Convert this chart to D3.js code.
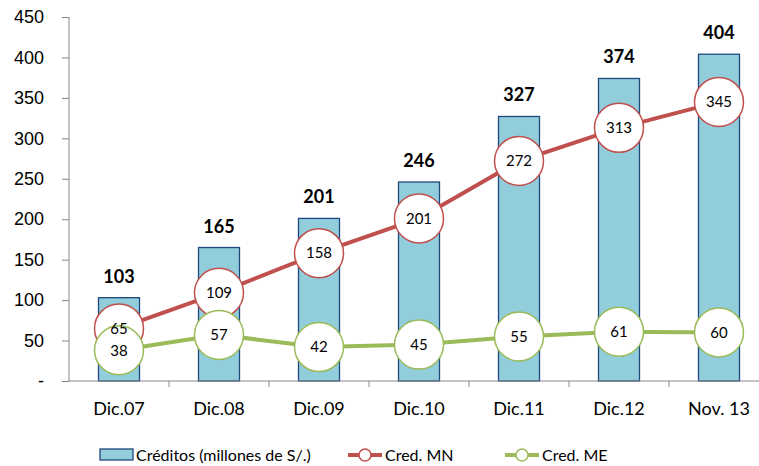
<!DOCTYPE html>
<html>
<head>
<meta charset="utf-8">
<script src="https://cdn.jsdelivr.net/npm/d3@7"></script>
<style>
  body { margin: 0; background: #fff; }
  svg { font-family: Lato, "Open Sans", sans-serif; }
</style>
</head>
<body>
<div id="chart"></div>
<script>
// data
const categories = ["Dic.07", "Dic.08", "Dic.09", "Dic.10", "Dic.11", "Dic.12", "Nov. 13"];
const creditos = [103, 165, 201, 246, 327, 374, 404];
const credMN = [65, 109, 158, 201, 272, 313, 345];
const credME = [38, 57, 42, 45, 55, 61, 60];
const yTicks = [0, 50, 100, 150, 200, 250, 300, 350, 400, 450];

const W = 759, H = 466;
const margin = { top: 17, left: 69 };
const x0 = margin.left, x1 = x0 + 700;
const yBottom = 381;

const svg = d3.select("#chart").append("svg")
  .attr("width", W).attr("height", H);

const x = d3.scaleBand().domain(categories).range([x0, x1]).paddingInner(0.59).paddingOuter(0.295);
const xc = d3.scalePoint().domain(categories).range([x0 + 50, x1 - 50]);
const y = d3.scaleLinear().domain([0, 450]).range([yBottom, margin.top]);

// y axis
const yAxis = svg.append("g")
  .attr("transform", `translate(${x0},0)`)
  .call(d3.axisLeft(y).tickValues(yTicks).tickSize(7).tickPadding(18)
    .tickFormat(d => d === 0 ? "-" : d));
yAxis.selectAll("line, path").attr("stroke", "#868686");
yAxis.select(".domain").attr("d", `M0,${yBottom}V${margin.top}`);
yAxis.selectAll("text").attr("font-size", 18).attr("fill", "#000");

// bars
svg.append("g").selectAll("rect").data(creditos).join("rect")
  .attr("x", (d, i) => x(categories[i]))
  .attr("width", x.bandwidth())
  .attr("y", d => y(d))
  .attr("height", d => yBottom - y(d))
  .attr("fill", "#92CDDC")
  .attr("stroke", "#1F497D")
  .attr("stroke-width", 1.3);

svg.append("g").selectAll("text").data(creditos).join("text")
  .attr("x", (d, i) => xc(categories[i]))
  .attr("y", d => y(d) - 15)
  .attr("text-anchor", "middle")
  .attr("font-size", 18).attr("font-weight", "bold")
  .text(d => d);

// x axis
const xAxis = svg.append("g")
  .attr("transform", `translate(0,${yBottom})`);
xAxis.append("line").attr("x1", x0).attr("x2", x1).attr("stroke", "#868686");
xAxis.selectAll(".tk").data(d3.range(1, 8)).join("line")
  .attr("x1", i => x0 + i * 100).attr("x2", i => x0 + i * 100)
  .attr("y1", 0).attr("y2", 6).attr("stroke", "#868686");
xAxis.selectAll("text").data(categories).join("text")
  .attr("x", d => xc(d)).attr("y", 34)
  .attr("text-anchor", "middle").attr("font-size", 18)
  .text(d => d);

// lines, then markers, then labels on top
const allSeries = [[credMN, "#C0504D"], [credME, "#9BBB59"]];
const line = d3.line().x((d, i) => xc(categories[i])).y(d => y(d));
allSeries.forEach(([vals, color]) => {
  svg.append("path").datum(vals)
    .attr("fill", "none").attr("stroke", color).attr("stroke-width", 4)
    .attr("d", line);
});
allSeries.forEach(([vals, color]) => {
  svg.append("g").selectAll("circle").data(vals).join("circle")
    .attr("cx", (d, i) => xc(categories[i])).attr("cy", d => y(d))
    .attr("r", 24.5).attr("fill", "#fff")
    .attr("stroke", color).attr("stroke-width", 1.5);
});
allSeries.forEach(([vals]) => {
  svg.append("g").selectAll("text").data(vals).join("text")
    .attr("x", (d, i) => xc(categories[i])).attr("y", d => y(d))
    .attr("text-anchor", "middle").attr("dy", "0.35em")
    .attr("font-size", 15).text(d => d);
});

// legend
const lg = svg.append("g").attr("transform", "translate(0,455)");
lg.append("rect").attr("x", 100).attr("y", -6).attr("width", 33).attr("height", 11)
  .attr("fill", "#92CDDC").attr("stroke", "#1F497D").attr("stroke-width", 1.3);
lg.append("text").attr("x", 136).attr("dy", "0.35em").attr("font-size", 16)
  .text("Créditos (millones de S/.)");
[["Cred. MN", "#C0504D", 348], ["Cred. ME", "#9BBB59", 505]].forEach(([t, c, lx]) => {
  lg.append("line").attr("x1", lx).attr("x2", lx + 34).attr("stroke", c).attr("stroke-width", 4);
  lg.append("circle").attr("cx", lx + 17).attr("r", 6).attr("fill", "#fff")
    .attr("stroke", c).attr("stroke-width", 1.5);
  lg.append("text").attr("x", lx + 37).attr("dy", "0.35em").attr("font-size", 16).text(t);
});
</script>
</body>
</html>
